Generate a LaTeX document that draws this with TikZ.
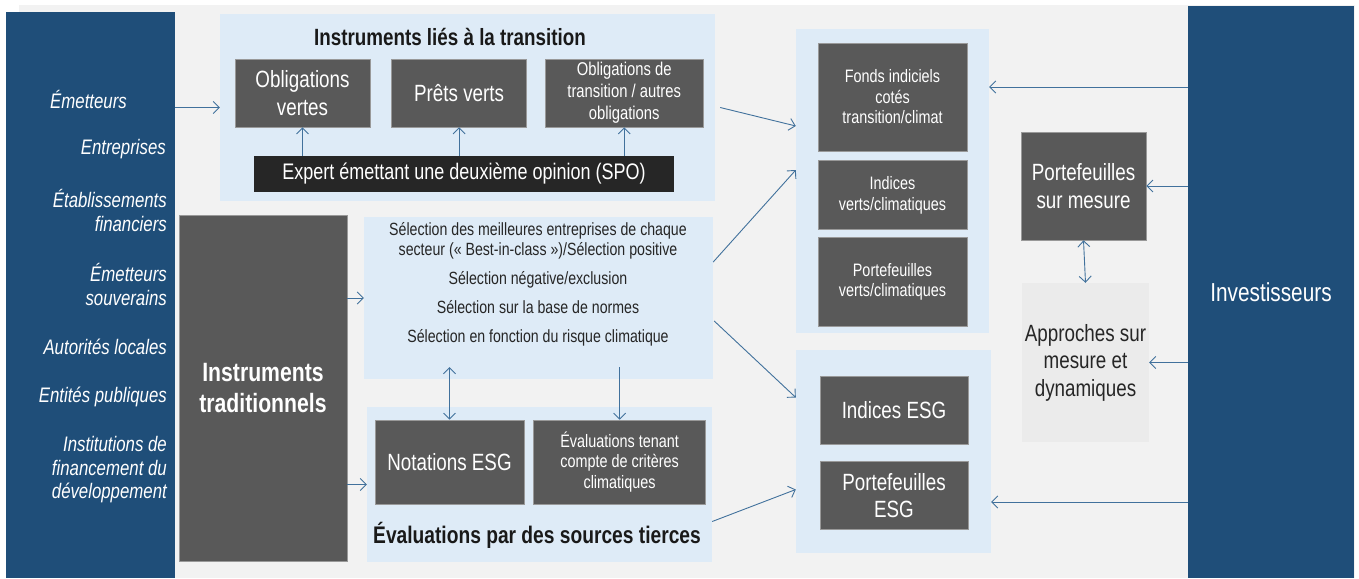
\documentclass[tikz,border=0pt]{standalone}
\usepackage{fontspec}
\setmainfont{Liberation Sans}[FakeStretch=0.8]
\usetikzlibrary{positioning,arrows.meta,calc}
\definecolor{navy}{HTML}{1F4E79}
\definecolor{boxgray}{HTML}{595959}
\definecolor{pale}{HTML}{DEEBF7}
\definecolor{bggray}{HTML}{F2F2F2}
\definecolor{spogray}{HTML}{262626}
\definecolor{apprgray}{HTML}{EBEBEB}
\definecolor{arrowc}{HTML}{41719C}

\begin{document}
\begin{tikzpicture}[x=1pt,y=-1pt,
  panel/.style={fill=navy,inner sep=0pt}, grp/.style={fill=pale,inner sep=0pt},
  dk/.style={fill=boxgray,draw=black!40,line width=0.6pt,text=white,align=center,inner sep=0pt},
  big/.style={font=\fontsize{23.5}{27.5}\selectfont}, sm/.style={font=\fontsize{18}{20.5}\selectfont},
  lbl/.style={text=white,align=right,anchor=east,inner sep=0pt,font=\fontsize{21}{23.5}\selectfont\itshape},
  hd/.style={inner sep=0pt,text=black!90,font=\fontsize{23.5}{27}\selectfont\bfseries},
  arr/.style={draw=arrowc,line width=0.9pt,-{Straight Barb[length=6pt,width=12pt]}},
  dbl/.style={arr,{Straight Barb[length=6pt,width=12pt]}-{Straight Barb[length=6pt,width=12pt]}}]
  \useasboundingbox (0,0) rectangle (1359,578);
  \fill[bggray] (19,5) rectangle (1355,578);
  \node[panel,minimum width=169,minimum height=566] (src) at (90.5,295) {};
  \node[panel,minimum width=166,minimum height=572,text=white,font=\fontsize{26}{30}\selectfont] (inv) at (1271,292) {Investisseurs};
  \node[lbl] (l1) at (127,99) {Émetteurs};
  \node[lbl] (l2) at (166,149) {Entreprises};
  \node[lbl] (l3) at (167,210.5) {Établissements\\financiers};
  \node[lbl] (l4) at (167,284.5) {Émetteurs\\souverains};
  \node[lbl] (l5) at (167,347) {Autorités locales};
  \node[lbl] (l6) at (167,397) {Entités publiques};
  \node[lbl] (l7) at (167,470) {Institutions de\\financement du\\développement};
  \node[grp,minimum width=495,minimum height=187] (trans) at (467.5,107.5) {};
  \node[hd] (ttrans) at (450,37) {Instruments liés à la transition};
  \node[dk,big,minimum width=135,minimum height=68] (ob1) at (302.5,93) {Obligations\\vertes};
  \node[dk,big,minimum width=135,minimum height=68,right=21pt of ob1] (ob2) {Prêts verts};
  \node[dk,minimum width=158,minimum height=68,right=18pt of ob2,font=\fontsize{18.5}{22}\selectfont] (ob3) {Obligations de\\transition / autres\\obligations};
  \node[fill=spogray,text=white,inner sep=0pt,minimum width=420,minimum height=36,font=\fontsize{22.5}{26}\selectfont] (spo) at (464,174) {Expert émettant une deuxième opinion (SPO)};
  \node[dk,minimum width=168,minimum height=346,font=\fontsize{26.5}{31.5}\selectfont\bfseries] (trad) at (263,388) {Instruments\\traditionnels};
  \node[grp,minimum width=349,minimum height=162] (sel) at (538.5,298) {};
  \node[align=center,inner sep=0pt,text=black!85,font=\fontsize{17.7}{20}\selectfont] (seltxt) at (538,284.5) {Sélection des meilleures entreprises de chaque\\secteur (« Best-in-class »)/Sélection positive\\[9pt]Sélection négative/exclusion\\[9pt]Sélection sur la base de normes\\[9pt]Sélection en fonction du risque climatique};
  \node[grp,minimum width=345,minimum height=155] (evl) at (539.5,484.5) {};
  \node[dk,big,minimum width=149,minimum height=84] (nesg) at (449.5,462) {Notations ESG};
  \node[dk,sm,minimum width=172,minimum height=84,right=9pt of nesg] (ecl) {Évaluations tenant\\compte de critères\\climatiques};
  \node[hd,font=\fontsize{24}{28}\selectfont\bfseries] (tevl) at (537,535) {Évaluations par des sources tierces};
  \node[grp,minimum width=193,minimum height=304] (rtop) at (892.5,181) {};
  \node[dk,sm,minimum width=149,minimum height=108] (fonds) at (892.5,97) {Fonds indiciels\\cotés\\transition/climat};
  \node[dk,sm,minimum width=149,minimum height=69,below=9pt of fonds] (ivc) {Indices\\verts/climatiques};
  \node[dk,sm,minimum width=149,minimum height=89,below=7pt of ivc] (pvc) {Portefeuilles\\verts/climatiques};
  \node[grp,minimum width=195,minimum height=203] (rbot) at (893.5,451.5) {};
  \node[dk,big,minimum width=148,minimum height=68] (iesg) at (894,410) {Indices ESG};
  \node[dk,big,minimum width=148,minimum height=68,below=17pt of iesg] (pesg) {Portefeuilles\\ESG};
  \node[dk,big,minimum width=125,minimum height=108] (psm) at (1083.5,186) {Portefeuilles\\sur mesure};
  \node[fill=apprgray,inner sep=0pt,align=center,big,text=black!85,minimum width=127,minimum height=159] (appr) at (1085.5,362.5) {Approches sur\\mesure et\\dynamiques};
  \draw[arr] (src.east |- trans.west) -- (trans.west);
  \draw[arr] (spo.north -| ob1) -- (ob1.south); \draw[arr] (spo.north -| ob2) -- (ob2.south); \draw[arr] (spo.north -| ob3) -- (ob3.south);
  \draw[arr] (trad.east |- sel.west) -- (sel.west);
  \draw[arr] (trad.east |- evl.west) -- (evl.west);
  \draw[dbl] ($(sel.south -| nesg)+(0,-12)$) -- (nesg.north);
  \draw[arr] ($(sel.south -| ecl)+(0,-12)$) -- (ecl.north);
  \draw[arr] ($(trans.east)+(5,0)$) -- ($(rtop.west)+(0,-55)$);
  \draw[arr] ($(sel.east)+(0,-36)$) -- ($(rtop.west)+(0,-11)$);
  \draw[arr] ($(sel.east)+(1,23)$) -- ($(rbot.west)+(0,-54)$);
  \draw[arr] ($(evl.east)+(0,37)$) -- ($(rbot.west)+(0,38)$);
  \draw[arr] (inv.west |- 0,87) -- (rtop.east |- 0,87);
  \draw[arr] (inv.west |- psm.east) -- (psm.east);
  \draw[arr] (inv.west |- appr.east) -- (appr.east);
  \draw[arr] (inv.west |- 0,502) -- (rbot.east |- 0,502);
  \draw[dbl] (psm.south) -- (appr.north);
\end{tikzpicture}
\end{document}
